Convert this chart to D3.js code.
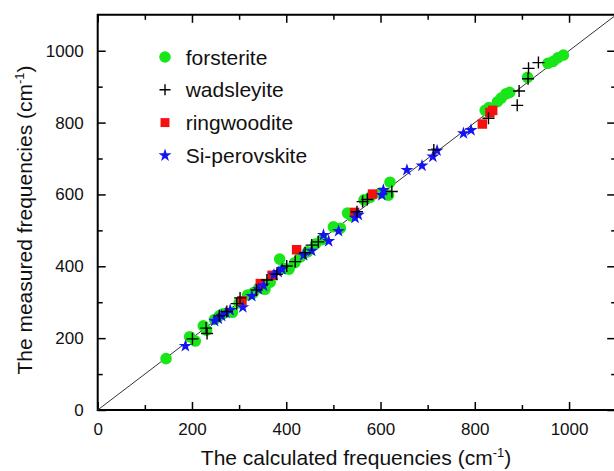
<!DOCTYPE html>
<html>
<head>
<meta charset="utf-8">
<script src="https://cdn.jsdelivr.net/npm/d3@7"></script>
<style>
  body { margin: 0; background: #fff; overflow: hidden; }
  svg { display: block; font-family: "Liberation Sans", Arial, sans-serif; }
</style>
</head>
<body>
<div id="chart"></div>
<script>
// calculated vs measured frequencies, cm-1 ([calc, meas])
var forsterite = [[145,143],[195,204],[207,192],[224,234],[231,222],[248,252],[258,262],[266,268],[286,272],
    [300,298],[318,320],[330,326],[342,340],[355,336],[366,356],[386,420],[396,394],[406,392],[418,410],
    [430,426],[445,440],[462,462],[476,474],[500,510],[515,506],[530,548],[538,540],[565,585],[578,592],
    [600,604],[617,598],[620,634],[822,834],[830,842],[848,858],[856,868],[866,880],[874,884],[912,926],
    [955,965],[966,970],[976,980],[988,988]];
var wadsleyite = [[201,198],[230,228],[232,213],[258,262],[274,274],[295,296],[302,312],[337,334],[359,362],
    [380,378],[401,401],[419,413],[440,438],[454,459],[468,468],[550,552],[562,580],[572,586],[624,608],
    [713,724],[829,812],[890,848],[894,888],[913,922],[914,951],[935,967]];
var ringwoodite = [[306,304],[345,352],[370,375],[422,446],[545,550],[583,601],[816,796],[832,828],[838,834]];
var siPerovskite = [[186,178],[248,248],[256,254],[263,262],[272,270],[281,278],[308,286],[327,317],[341,336],
    [352,346],[374,376],[383,384],[391,392],[437,431],[454,443],[479,487],[490,470],[511,498],[546,535],
    [553,543],[603,598],[606,612],[656,668],[688,680],[711,705],[720,722],[776,770],[792,779]];

var seriesNames = ["forsterite", "wadsleyite", "ringwoodite", "Si-perovskite"];
var majorTicks = [0, 200, 400, 600, 800, 1000];
var minorTicks = [100, 300, 500, 700, 900];

var width = 614, height = 471;
var margin = { top: 14.8, left: 97.7 };
var plotW = 518.5, plotH = 395.2;

var svg = d3.select("#chart").append("svg")
    .attr("width", width)
    .attr("height", height);

var x = d3.scaleLinear().domain([0, 1100]).range([margin.left, margin.left + plotW]);
var y = d3.scaleLinear().domain([0, 1100]).range([margin.top + plotH, margin.top]);

// plot frame (right edge falls just outside the picture)
svg.append("path")
    .attr("d", "M" + width + "," + y(1100) + "H" + x(0) + "V" + y(0) + "H" + width)
    .attr("fill", "none").attr("stroke", "#000").attr("stroke-width", 2);

// axes, ticks inward
function styleAxis(g) {
    g.attr("font-family", null).attr("font-size", null);
    g.select(".domain").remove();
    g.selectAll(".tick line").attr("stroke", "#000").attr("stroke-width", 1.5);
    g.selectAll(".tick text").attr("font-size", "17px").attr("fill", "#111");
}

svg.append("g").attr("transform", "translate(0," + y(0) + ")")
    .call(d3.axisBottom(x).tickValues(majorTicks).tickSize(-8).tickPadding(13).tickFormat(d3.format("d")))
    .call(styleAxis);
svg.append("g").attr("transform", "translate(0," + y(0) + ")")
    .call(d3.axisBottom(x).tickValues(minorTicks).tickSize(-5).tickFormat(""))
    .call(styleAxis);
svg.append("g").attr("transform", "translate(0," + y(1100) + ")")
    .call(d3.axisTop(x).tickValues(majorTicks).tickSize(-8).tickFormat(""))
    .call(styleAxis);
svg.append("g").attr("transform", "translate(0," + y(1100) + ")")
    .call(d3.axisTop(x).tickValues(minorTicks).tickSize(-5).tickFormat(""))
    .call(styleAxis);

svg.append("g").attr("transform", "translate(" + x(0) + ",0)")
    .call(d3.axisLeft(y).tickValues(majorTicks).tickSize(-8).tickPadding(14).tickFormat(d3.format("d")))
    .call(styleAxis);
svg.append("g").attr("transform", "translate(" + x(0) + ",0)")
    .call(d3.axisLeft(y).tickValues(minorTicks).tickSize(-5).tickFormat(""))
    .call(styleAxis);
svg.append("g").attr("transform", "translate(" + x(1100) + ",0)")
    .call(d3.axisRight(y).tickValues(majorTicks).tickSize(-9).tickFormat(""))
    .call(styleAxis);
svg.append("g").attr("transform", "translate(" + x(1100) + ",0)")
    .call(d3.axisRight(y).tickValues(minorTicks).tickSize(-5).tickFormat(""))
    .call(styleAxis);

// y = x reference line
svg.append("line")
    .attr("x1", x(0)).attr("y1", y(0))
    .attr("x2", x(1100)).attr("y2", y(1100))
    .attr("stroke", "#333").attr("stroke-width", 1);

// markers
var circleSym = d3.symbol().type(d3.symbolCircle).size(106);
var squareSym = d3.symbol().type(d3.symbolSquare).size(90);
var starSym = d3.symbol().type(d3.symbolStar).size(52);
var plusPath = function(r) {
    return "M" + (-r) + ",0H" + r + "M0," + (-r) + "V" + r;
};

var marks = svg.append("g");

marks.selectAll(".fo").data(forsterite).enter().append("path")
    .attr("class", "fo")
    .attr("transform", function(d) { return "translate(" + x(d[0]) + "," + y(d[1]) + ")"; })
    .attr("d", circleSym)
    .attr("fill", "#19e619");

marks.selectAll(".ri").data(ringwoodite).enter().append("path")
    .attr("class", "ri")
    .attr("transform", function(d) { return "translate(" + x(d[0]) + "," + y(d[1]) + ")"; })
    .attr("d", squareSym)
    .attr("fill", "#f50f0f");

marks.selectAll(".si").data(siPerovskite).enter().append("path")
    .attr("class", "si")
    .attr("transform", function(d) { return "translate(" + x(d[0]) + "," + y(d[1]) + ")"; })
    .attr("d", starSym)
    .attr("fill", "#1414f0");

marks.selectAll(".wa").data(wadsleyite).enter().append("path")
    .attr("class", "wa")
    .attr("transform", function(d) { return "translate(" + x(d[0]) + "," + y(d[1]) + ")"; })
    .attr("d", plusPath(6))
    .attr("fill", "none")
    .attr("stroke", "#000").attr("stroke-width", 1.4);

// legend
var legend = svg.append("g").attr("transform", "translate(165,57)");
var rows = legend.selectAll("g").data(seriesNames).enter().append("g")
    .attr("transform", function(d, i) { return "translate(0," + (i * 32.8) + ")"; });

rows.each(function(d, i) {
    var g = d3.select(this);
    if (i === 0) g.append("path").attr("d", circleSym).attr("fill", "#19e619");
    if (i === 1) g.append("path").attr("d", plusPath(5.5)).attr("stroke", "#000").attr("stroke-width", 1.4);
    if (i === 2) g.append("path").attr("d", d3.symbol().type(d3.symbolSquare).size(80)).attr("fill", "#f50f0f");
    if (i === 3) g.append("path").attr("d", starSym).attr("fill", "#1414f0");
    g.append("text")
        .attr("x", 20.7).attr("y", 7.6)
        .attr("font-size", "21px").attr("fill", "#111")
        .text(d);
});

// axis titles
var xTitle = svg.append("text")
    .attr("x", 356).attr("y", 465)
    .attr("text-anchor", "middle")
    .attr("font-size", "21px").attr("fill", "#111");
xTitle.append("tspan").text("The calculated frequencies (cm");
xTitle.append("tspan").attr("dy", -8).attr("font-size", "13px").text("-1");
xTitle.append("tspan").attr("dy", 8).text(")");

var yTitle = svg.append("text")
    .attr("transform", "translate(32,220) rotate(-90)")
    .attr("text-anchor", "middle")
    .attr("font-size", "21px").attr("fill", "#111");
yTitle.append("tspan").text("The measured frequencies (cm");
yTitle.append("tspan").attr("dy", -8).attr("font-size", "13px").text("-1");
yTitle.append("tspan").attr("dy", 8).text(")");
</script>
</body>
</html>
